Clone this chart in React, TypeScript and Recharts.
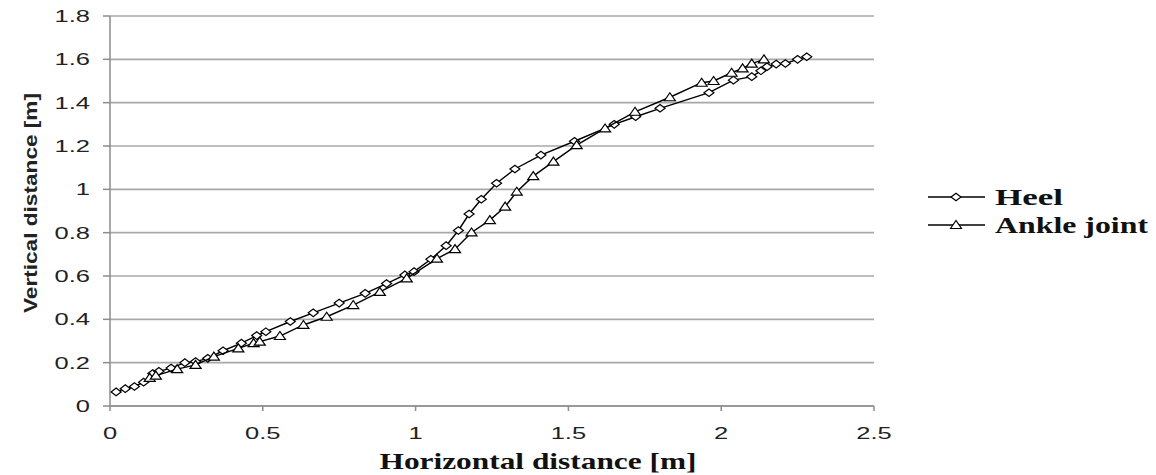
import React from "react";
import {
  ScatterChart,
  Scatter,
  XAxis,
  YAxis,
  CartesianGrid,
  Legend,
} from "recharts";

const heelX = [0.02, 0.05, 0.08, 0.11, 0.14, 0.16, 0.2, 0.245, 0.28, 0.32, 0.37, 0.43, 0.48, 0.51, 0.59, 0.665, 0.75, 0.835, 0.905, 0.965, 0.995, 1.05, 1.1, 1.14, 1.175, 1.215, 1.265, 1.325, 1.41, 1.52, 1.65, 1.72, 1.8, 1.96, 2.04, 2.1, 2.13, 2.15, 2.18, 2.21, 2.25, 2.28];
const heelY = [0.065, 0.08, 0.09, 0.11, 0.15, 0.16, 0.175, 0.2, 0.205, 0.22, 0.255, 0.29, 0.325, 0.343, 0.39, 0.43, 0.475, 0.52, 0.565, 0.605, 0.62, 0.677, 0.74, 0.81, 0.886, 0.954, 1.028, 1.094, 1.158, 1.222, 1.3, 1.335, 1.374, 1.446, 1.504, 1.52, 1.547, 1.566, 1.578, 1.581, 1.6, 1.612];

const ankleX = [0.13, 0.15, 0.22, 0.28, 0.34, 0.42, 0.47, 0.49, 0.556, 0.633, 0.709, 0.796, 0.883, 0.971, 1.07, 1.129, 1.183, 1.243, 1.293, 1.331, 1.385, 1.451, 1.527, 1.62, 1.718, 1.832, 1.936, 1.975, 2.034, 2.07, 2.1, 2.14];
const ankleY = [0.13, 0.14, 0.17, 0.19, 0.228, 0.266, 0.29, 0.297, 0.323, 0.374, 0.412, 0.466, 0.527, 0.589, 0.68, 0.724, 0.801, 0.858, 0.92, 0.989, 1.061, 1.128, 1.204, 1.281, 1.358, 1.425, 1.492, 1.5, 1.538, 1.558, 1.58, 1.6];

const xTicks = [0, 0.5, 1, 1.5, 2, 2.5];
const yTicks = [0, 0.2, 0.4, 0.6, 0.8, 1, 1.2, 1.4, 1.6, 1.8];
const seriesNames = ["Heel", "Ankle joint"];
const xTitle = "Horizontal distance [m]";
const yTitle = "Vertical distance [m]";

const heelData = heelX.map((x, i) => ({ x, y: heelY[i] }));
const ankleData = ankleX.map((x, i) => ({ x, y: ankleY[i] }));

const diamondPath = (cx: number, cy: number) =>
  `M${cx - 5},${cy} L${cx},${cy - 3.8} L${cx + 5},${cy} L${cx},${cy + 3.8} Z`;
const trianglePath = (cx: number, cy: number) =>
  `M${cx - 5.5},${cy + 3.5} L${cx},${cy - 4.5} L${cx + 5.5},${cy + 3.5} Z`;

const Diamond = (props: any) => (
  <path d={diamondPath(props.cx, props.cy)} fill="#fff" stroke="#000" strokeWidth={1.2} />
);
const Triangle = (props: any) => (
  <path d={trianglePath(props.cx, props.cy)} fill="#fff" stroke="#000" strokeWidth={1.2} />
);

const tickFont = "'Liberation Sans', Arial, sans-serif";

const YTick = (props: any) => {
  const { x, y, payload } = props;
  return (
    <g transform={`translate(${x},${y}) scale(1.5,1)`}>
      <text x={0} y={0} dy="0.36em" textAnchor="end" fontFamily={tickFont} fontSize={17} fill="#222">
        {String(payload.value)}
      </text>
    </g>
  );
};

const XTick = (props: any) => {
  const { x, y, payload } = props;
  return (
    <g transform={`translate(${x},${y}) scale(1.5,1)`}>
      <text x={0} y={0} dy="0.71em" textAnchor="middle" fontFamily={tickFont} fontSize={17} fill="#222">
        {String(payload.value)}
      </text>
    </g>
  );
};

const XLabel = (props: any) => {
  const vb = props.viewBox || { x: 102, width: 764, y: 406 };
  const cx = vb.x + vb.width / 2 + 46;
  return (
    <text
      x={cx}
      y={469}
      textAnchor="middle"
      fontFamily="'Liberation Serif', 'Times New Roman', serif"
      fontWeight="bold"
      fontSize={23}
      fill="#111"
      textLength={317}
      lengthAdjust="spacingAndGlyphs"
    >
      {xTitle}
    </text>
  );
};

const YLabel = () => (
  <text
    x={0}
    y={0}
    transform="translate(22,203) rotate(-90)"
    textAnchor="middle"
    dominantBaseline="central"
    fontFamily={tickFont}
    fontWeight="bold"
    fontSize={19}
    fill="#222"
    textLength={220}
    lengthAdjust="spacingAndGlyphs"
  >
    {yTitle}
  </text>
);

const LegendContent = () => (
  <svg width={232} height={62} style={{ display: "block" }}>
    <line x1={8} x2={65} y1={17} y2={17} stroke="#000" strokeWidth={1.5} />
    <path d={diamondPath(36, 17)} fill="#fff" stroke="#000" strokeWidth={1.2} />
    <text x={75} y={25} fontFamily="'Liberation Serif', 'Times New Roman', serif" fontWeight="bold" fontSize={23} fill="#111" textLength={68} lengthAdjust="spacingAndGlyphs">
      {seriesNames[0]}
    </text>
    <line x1={8} x2={65} y1={45} y2={45} stroke="#000" strokeWidth={1.5} />
    <path d={trianglePath(36, 45)} fill="#fff" stroke="#000" strokeWidth={1.2} />
    <text x={75} y={53} fontFamily="'Liberation Serif', 'Times New Roman', serif" fontWeight="bold" fontSize={23} fill="#111" textLength={153} lengthAdjust="spacingAndGlyphs">
      {seriesNames[1]}
    </text>
  </svg>
);

export default function App() {
  return (
    <div style={{ width: 1140, height: 475, marginTop: -8, background: "#fff" }}>
      <ScatterChart
        width={1140}
        height={475}
        margin={{ top: 16, right: 274, bottom: 39, left: 0 }}
      >
        <CartesianGrid vertical={false} stroke="#a8a8a8" strokeWidth={1.6} />
        <XAxis
          type="number"
          dataKey="x"
          domain={[0, 2.5]}
          ticks={xTicks}
          interval={0}
          height={30}
          stroke="#8c8c8c"
          strokeWidth={1.5}
          tickSize={5}
          tickMargin={16}
          tick={<XTick />}
          label={<XLabel />}
          allowDataOverflow
        />
        <YAxis
          type="number"
          dataKey="y"
          domain={[0, 1.8]}
          ticks={yTicks}
          interval={0}
          width={102}
          stroke="#8c8c8c"
          strokeWidth={1.5}
          tickSize={7}
          tickMargin={13}
          tick={<YTick />}
          label={<YLabel />}
          allowDataOverflow
        />
        <Legend
          layout="vertical"
          align="center"
          verticalAlign="middle"
          content={<LegendContent />}
          wrapperStyle={{ left: 912, top: 180, width: 232, height: 62 }}
        />
        <Scatter
          name={seriesNames[0]}
          data={heelData}
          line={{ stroke: "#000", strokeWidth: 1.4 }}
          lineJointType="linear"
          shape={<Diamond />}
          isAnimationActive={false}
        />
        <Scatter
          name={seriesNames[1]}
          data={ankleData}
          line={{ stroke: "#000", strokeWidth: 1.4 }}
          lineJointType="linear"
          shape={<Triangle />}
          isAnimationActive={false}
        />
      </ScatterChart>
    </div>
  );
}
